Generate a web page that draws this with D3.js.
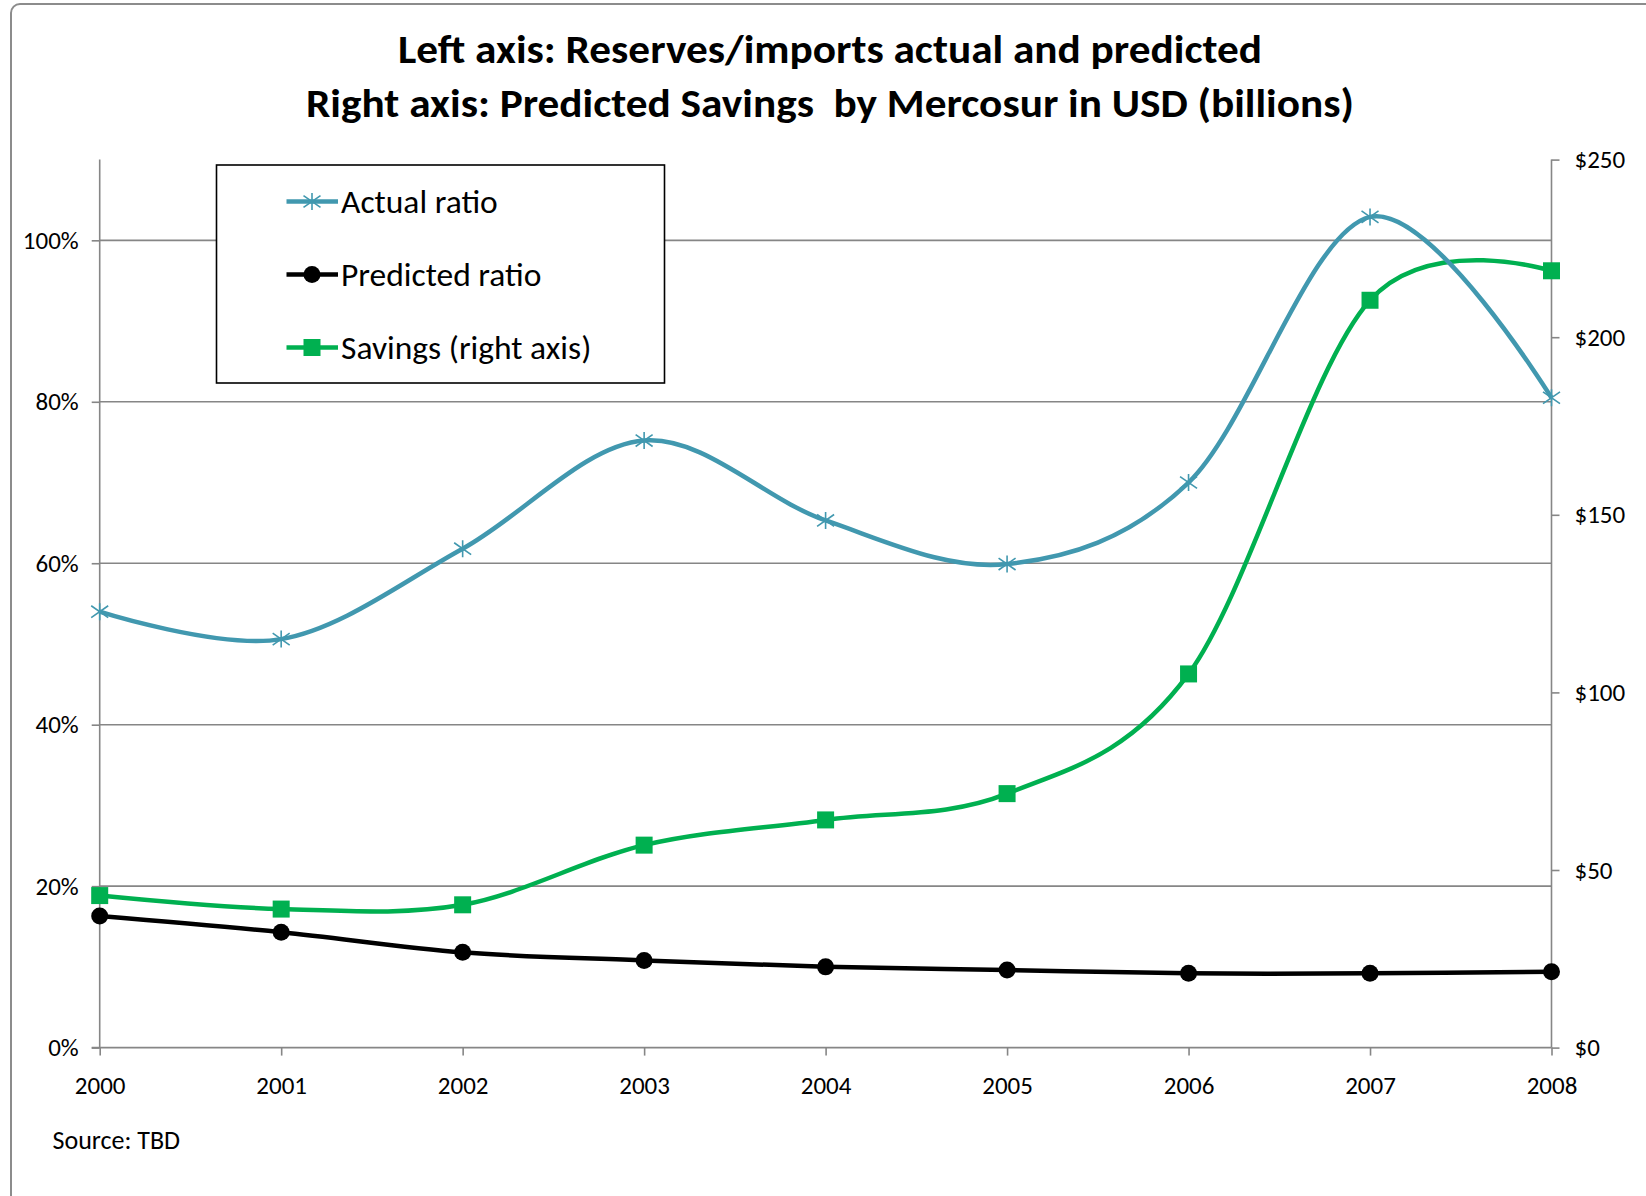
<!DOCTYPE html>
<html>
<head>
<meta charset="utf-8">
<script src="https://cdn.jsdelivr.net/npm/d3@7"></script>
<style>
  body { margin: 0; background: #fff; }
  svg text { font-family: Carlito, Calibri, "Open Sans", sans-serif; fill: #000; }
</style>
</head>
<body>
<div id="chart"></div>
<script>
// data
var years = [2000, 2001, 2002, 2003, 2004, 2005, 2006, 2007, 2008];
var actualRatio = [0.540, 0.506, 0.618, 0.752, 0.653, 0.599, 0.700, 1.029, 0.805];
var predictedRatio = [0.163, 0.143, 0.118, 0.108, 0.100, 0.096, 0.092, 0.092, 0.094];
var savings = [42.8, 39.0, 40.2, 57.0, 64.1, 71.5, 105.2, 210.4, 218.7];
var leftTicks = [0, 0.2, 0.4, 0.6, 0.8, 1.0];
var rightTicks = [0, 50, 100, 150, 200, 250];
var titleLines = ["Left axis: Reserves/imports actual and predicted",
                  "Right axis: Predicted Savings  by Mercosur in USD (billions)"];
var legendNames = ["Actual ratio", "Predicted ratio", "Savings (right axis)"];

var W = 1646, H = 1196;
var blue = "#4198af", green = "#00b050", black = "#000000", gray = "#868686";

var svg = d3.select("#chart").append("svg")
    .attr("width", W)
    .attr("height", H);

// chart border (cropped at right and bottom like the original)
svg.append("rect")
    .attr("x", 11).attr("y", 4)
    .attr("width", 1800).attr("height", 1400)
    .attr("rx", 9)
    .attr("fill", "none")
    .attr("stroke", "#8c8c8c")
    .attr("stroke-width", 2);

var plotL = 99.7, plotR = 1551.5, plotT = 159.6, plotB = 1047.6;

var x = d3.scaleLinear().domain([2000, 2008]).range([plotL, plotR]);
var yL = d3.scaleLinear().domain([0, 1.1]).range([plotB, plotT]);
var yR = d3.scaleLinear().domain([0, 250]).range([plotB, plotT]);

// title
svg.selectAll(".title")
    .data(titleLines)
    .enter()
    .append("text")
    .attr("class", "title")
    .attr("x", 830)
    .attr("y", function(d, i) { return 63 + i * 53.5; })
    .attr("text-anchor", "middle")
    .attr("textLength", function(d, i) { return i == 0 ? 864 : 1048; })
    .attr("lengthAdjust", "spacingAndGlyphs")
    .style("white-space", "pre")
    .style("font-size", "40px")
    .style("font-weight", "bold")
    .text(function(d) { return d; });

// gridlines
svg.append("g")
    .selectAll("line")
    .data(leftTicks.filter(function(d) { return d > 0; }))
    .enter()
    .append("line")
    .attr("x1", plotL).attr("x2", plotR)
    .attr("y1", yL).attr("y2", yL)
    .attr("stroke", gray)
    .attr("stroke-width", 1.6);

// left axis
var axL = svg.append("g")
    .attr("transform", "translate(" + plotL + ",0)")
    .call(d3.axisLeft(yL).tickValues(leftTicks).tickFormat(d3.format(".0%")).tickSize(8).tickPadding(13));
axL.select(".domain").attr("d", "M0," + plotT + "V" + plotB);

// right axis
var axR = svg.append("g")
    .attr("transform", "translate(" + plotR + ",0)")
    .call(d3.axisRight(yR).tickValues(rightTicks).tickFormat(function(d) { return "$" + d; }).tickSize(8).tickPadding(15));
axR.select(".domain").attr("d", "M0," + plotT + "V" + plotB);

// bottom axis
var axB = svg.append("g")
    .attr("transform", "translate(0," + plotB + ")")
    .call(d3.axisBottom(x).tickValues(years).tickFormat(d3.format("d")).tickSize(8).tickPadding(21));
axB.select(".domain").attr("d", "M" + (plotL - 8) + ",0H" + plotR);

[axL, axR, axB].forEach(function(a) {
    a.selectAll(".domain, .tick line").attr("stroke", gray).attr("stroke-width", 1.6);
    a.selectAll("text").style("font-size", "25px").attr("fill", "#000");
});

// lines
var curve = d3.curveCardinal.tension(0);
function series(vals, yScale) {
    return years.map(function(yr, i) { return { x: x(yr), y: yScale(vals[i]) }; });
}
var lineGen = d3.line().x(function(d) { return d.x; }).y(function(d) { return d.y; }).curve(curve);

var sAct = series(actualRatio, yL),
    sPred = series(predictedRatio, yL),
    sSav = series(savings, yR);

svg.append("path").datum(sPred).attr("d", lineGen)
    .attr("fill", "none").attr("stroke", black).attr("stroke-width", 4.5);
svg.append("path").datum(sSav).attr("d", lineGen)
    .attr("fill", "none").attr("stroke", green).attr("stroke-width", 4.5);
svg.append("path").datum(sAct).attr("d", lineGen)
    .attr("fill", "none").attr("stroke", blue).attr("stroke-width", 4.5);

// markers
function star(g, cx, cy) {
    var r = 8.5;
    g.append("path")
        .attr("d", "M" + (cx - r) + "," + (cy - r * 0.7) + "L" + (cx + r) + "," + (cy + r * 0.7) +
                   "M" + (cx - r) + "," + (cy + r * 0.7) + "L" + (cx + r) + "," + (cy - r * 0.7) +
                   "M" + cx + "," + (cy - r) + "V" + (cy + r))
        .attr("stroke", blue)
        .attr("stroke-width", 1.6)
        .attr("fill", "none");
}
function dot(g, cx, cy) {
    g.append("circle").attr("cx", cx).attr("cy", cy).attr("r", 8.5).attr("fill", black);
}
function square(g, cx, cy) {
    g.append("rect").attr("x", cx - 8.5).attr("y", cy - 8.5)
        .attr("width", 17).attr("height", 17).attr("fill", green);
}

var mk = svg.append("g");
sPred.forEach(function(p) { dot(mk, p.x, p.y); });
sSav.forEach(function(p) { square(mk, p.x, p.y); });
sAct.forEach(function(p) { star(mk, p.x, p.y); });

// legend
var lg = svg.append("g");
lg.append("rect")
    .attr("x", 216.5).attr("y", 165)
    .attr("width", 448).attr("height", 218)
    .attr("fill", "#fff")
    .attr("stroke", "#000")
    .attr("stroke-width", 1.6);

var legendRows = [
    { name: legendNames[0], color: blue, mark: star },
    { name: legendNames[1], color: black, mark: dot },
    { name: legendNames[2], color: green, mark: square }
];
legendRows.forEach(function(r, i) {
    var cy = 201.5 + i * 73;
    lg.append("line")
        .attr("x1", 286.5).attr("x2", 338)
        .attr("y1", cy).attr("y2", cy)
        .attr("stroke", r.color)
        .attr("stroke-width", 4.5);
    r.mark(lg, 312, cy);
    lg.append("text")
        .attr("x", 341)
        .attr("y", cy + 11)
        .style("font-size", "33.5px")
        .text(r.name);
});

// source note
svg.append("text")
    .attr("x", 52.5)
    .attr("y", 1149)
    .style("font-size", "26px")
    .text("Source: TBD");
</script>
</body>
</html>
